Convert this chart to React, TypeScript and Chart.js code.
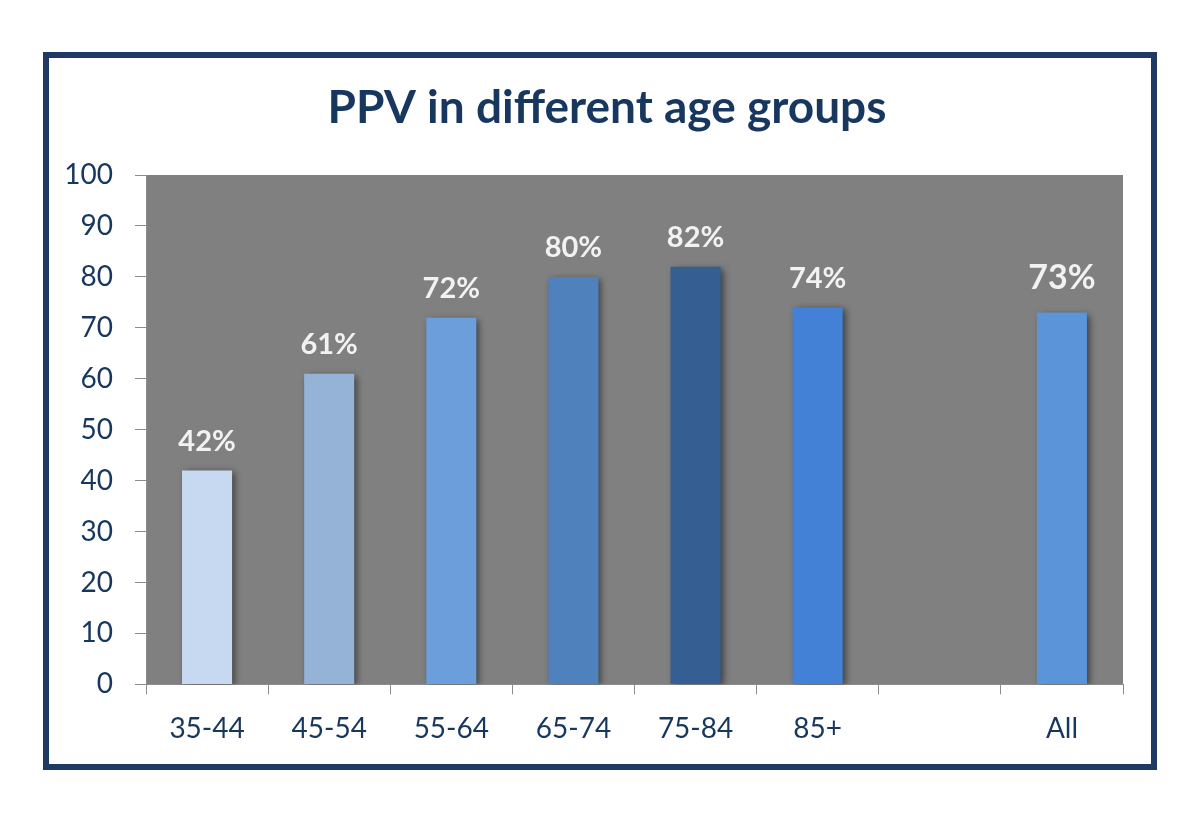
import React, { useEffect, useRef } from "react";
import { Chart, registerables } from "chart.js";

Chart.register(...registerables);

const titleText = "PPV in different age groups";
const categories: string[] = ["35-44", "45-54", "55-64", "65-74", "75-84", "85+", "", "All"];
const ppvValues: (number | null)[] = [42, 61, 72, 80, 82, 74, null, 73];
const barLabels: string[] = ["42%", "61%", "72%", "80%", "82%", "74%", "", "73%"];
const barColors: string[] = ["#C6D9F1", "#95B3D7", "#6C9EDC", "#4F81BD", "#355E92", "#4281D6", "#000000", "#5B94D8"];
const yTicks: number[] = [0, 10, 20, 30, 40, 50, 60, 70, 80, 90, 100];

const NAVY = "#17375E";
const FONT = "Lato, 'Open Sans', sans-serif";

const plotBgPlugin = {
  id: "plotBg",
  beforeDraw(chart: any) {
    const { ctx, chartArea } = chart;
    ctx.save();
    ctx.fillStyle = "#808080";
    ctx.fillRect(chartArea.left, chartArea.top, chartArea.right - chartArea.left, chartArea.bottom - chartArea.top);
    ctx.restore();
  },
};

const titlePlugin = {
  id: "offsetTitle",
  afterDraw(chart: any) {
    const { ctx } = chart;
    ctx.save();
    ctx.fillStyle = NAVY;
    ctx.font = `bold 46px ${FONT}`;
    ctx.textAlign = "center";
    ctx.textBaseline = "alphabetic";
    ctx.fillText(titleText, 558, 65);
    ctx.restore();
  },
};

const shadowPlugin = {
  id: "barShadow",
  beforeDatasetsDraw(chart: any) {
    const ctx = chart.ctx;
    ctx.save();
    ctx.shadowColor = "rgba(0,0,0,0.55)";
    ctx.shadowBlur = 7;
    ctx.shadowOffsetX = 3;
    ctx.shadowOffsetY = 2;
  },
  afterDatasetsDraw(chart: any) {
    chart.ctx.restore();
  },
};

const valueLabelPlugin = {
  id: "valueLabels",
  afterDatasetsDraw(chart: any) {
    const { ctx } = chart;
    const meta = chart.getDatasetMeta(0);
    ctx.save();
    ctx.fillStyle = "#F2F2F2";
    ctx.textAlign = "center";
    ctx.textBaseline = "middle";
    meta.data.forEach((bar: any, i: number) => {
      if (ppvValues[i] == null) return;
      const isAll = categories[i] === "All";
      ctx.font = `bold ${isAll ? 34 : 29}px ${FONT}`;
      ctx.fillText(barLabels[i], bar.x, bar.y - (isAll ? 35 : 29));
    });
    ctx.restore();
  },
};

export default function App() {
  const canvasRef = useRef<HTMLCanvasElement | null>(null);

  useEffect(() => {
    if (!canvasRef.current) return;
    const chart = new Chart(canvasRef.current, {
      type: "bar",
      data: {
        labels: categories,
        datasets: [
          {
            data: ppvValues as any,
            backgroundColor: barColors,
            borderWidth: 0,
            categoryPercentage: 1,
            barPercentage: 0.41,
          },
        ],
      },
      options: {
        animation: false,
        responsive: false,
        maintainAspectRatio: false,
        layout: { padding: { left: 0, right: 28, top: 117, bottom: 0 } },
        plugins: {
          legend: { display: false },
          tooltip: { enabled: false },
          title: { display: false },
        },
        scales: {
          x: {
            grid: {
              display: true,
              drawOnChartArea: false,
              drawTicks: true,
              tickLength: 10,
              color: "#8C8C8C",
              offset: true,
            },
            border: { display: true, color: "#8C8C8C", width: 1 },
            ticks: {
              color: NAVY,
              font: { family: FONT, size: 28 },
              padding: 18,
              maxRotation: 0,
              autoSkip: false,
            },
          },
          y: {
            min: 0,
            max: 100,
            afterFit(scale: any) {
              scale.width = 97;
            },
            afterBuildTicks(scale: any) {
              scale.ticks = yTicks.map((v) => ({ value: v }));
            },
            grid: {
              display: true,
              drawOnChartArea: false,
              drawTicks: true,
              tickLength: 11,
              color: "#8C8C8C",
            },
            border: { display: true, color: "#8C8C8C", width: 1 },
            ticks: {
              color: NAVY,
              font: { family: FONT, size: 28 },
              padding: 22,
            },
          },
        },
      },
      plugins: [plotBgPlugin, shadowPlugin, valueLabelPlugin, titlePlugin],
    });
    return () => chart.destroy();
  }, []);

  return (
    <div
      style={{
        position: "fixed",
        left: 43,
        top: 52,
        width: 1114,
        height: 718,
        border: "6px solid #1E3A64",
        boxSizing: "border-box",
        background: "#FFFFFF",
      }}
    >
      <canvas ref={canvasRef} width={1102} height={706} style={{ display: "block" }} />
    </div>
  );
}
